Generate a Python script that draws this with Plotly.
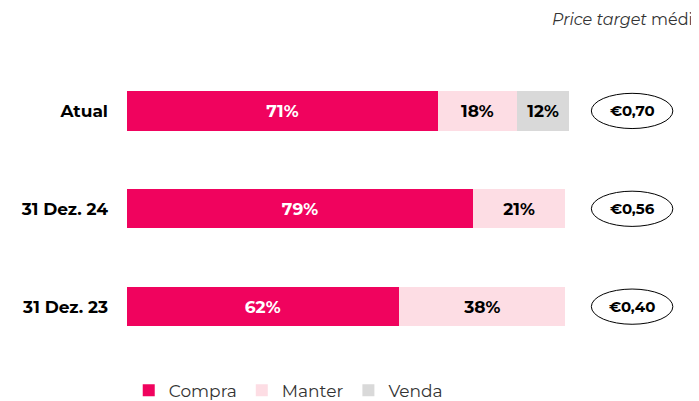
import plotly.graph_objects as go

categories = ["Atual", "31 Dez. 24", "31 Dez. 23"]
compra = [71, 79, 62]
manter = [18, 21, 38]
venda = [12, 0, 0]
price_targets = ["€0,70", "€0,56", "€0,40"]

font = "Montserrat, Open Sans, sans-serif"

def labels(vals):
    return [f"<b>{v}%</b>" if v > 0 else "" for v in vals]

fig = go.Figure()
series = [("Compra", compra, "#F0035E", "white"),
          ("Manter", manter, "#FDDDE4", "black"),
          ("Venda", venda, "#D9D9D9", "black")]
for name, vals, color, tcolor in series:
    fig.add_trace(go.Bar(
        y=categories, x=vals, name=name, orientation="h",
        marker=dict(color=color, line=dict(width=0)),
        text=labels(vals), textposition="inside", insidetextanchor="middle",
        textfont=dict(color=tcolor, size=17, family=font),
        width=0.4, hoverinfo="skip"))

# ellipses sit to the right of the 100% mark, in data units
for i, pt in enumerate(price_targets):
    fig.add_shape(type="circle", xref="x", yref="y",
                  x0=106.0, x1=124.6, y0=i - 0.18, y1=i + 0.18,
                  line=dict(color="black", width=1))
    fig.add_annotation(xref="x", yref="y", x=115.3, y=i,
                       text=f"<b>{pt}</b>", showarrow=False,
                       font=dict(size=15, color="black", family=font))

fig.add_annotation(xref="x", yref="paper", x=132, y=1.127, xanchor="right",
                   yanchor="middle",
                   text="<i>Price target</i> médio", showarrow=False,
                   font=dict(size=16, color="#333333", family=font))

fig.update_layout(
    barmode="stack", width=699, height=401,
    margin=dict(l=119, r=0, t=54, b=0),
    plot_bgcolor="white", paper_bgcolor="white",
    xaxis=dict(range=[0, 132.4], visible=False),
    yaxis=dict(autorange="reversed", showgrid=False, ticks="",
               domain=[0.121, 1],
               tickfont=dict(size=17, color="black", family=font),
               ticklabelstandoff=18,
               tickvals=categories, ticktext=[f"<b>{c}</b>" for c in categories]),
    legend=dict(orientation="h", x=0.278, xanchor="center", y=0.07, yanchor="top",
                traceorder="normal",
                font=dict(size=17, color="#333333", family=font)),
    showlegend=True)

fig.write_html("out.html")
